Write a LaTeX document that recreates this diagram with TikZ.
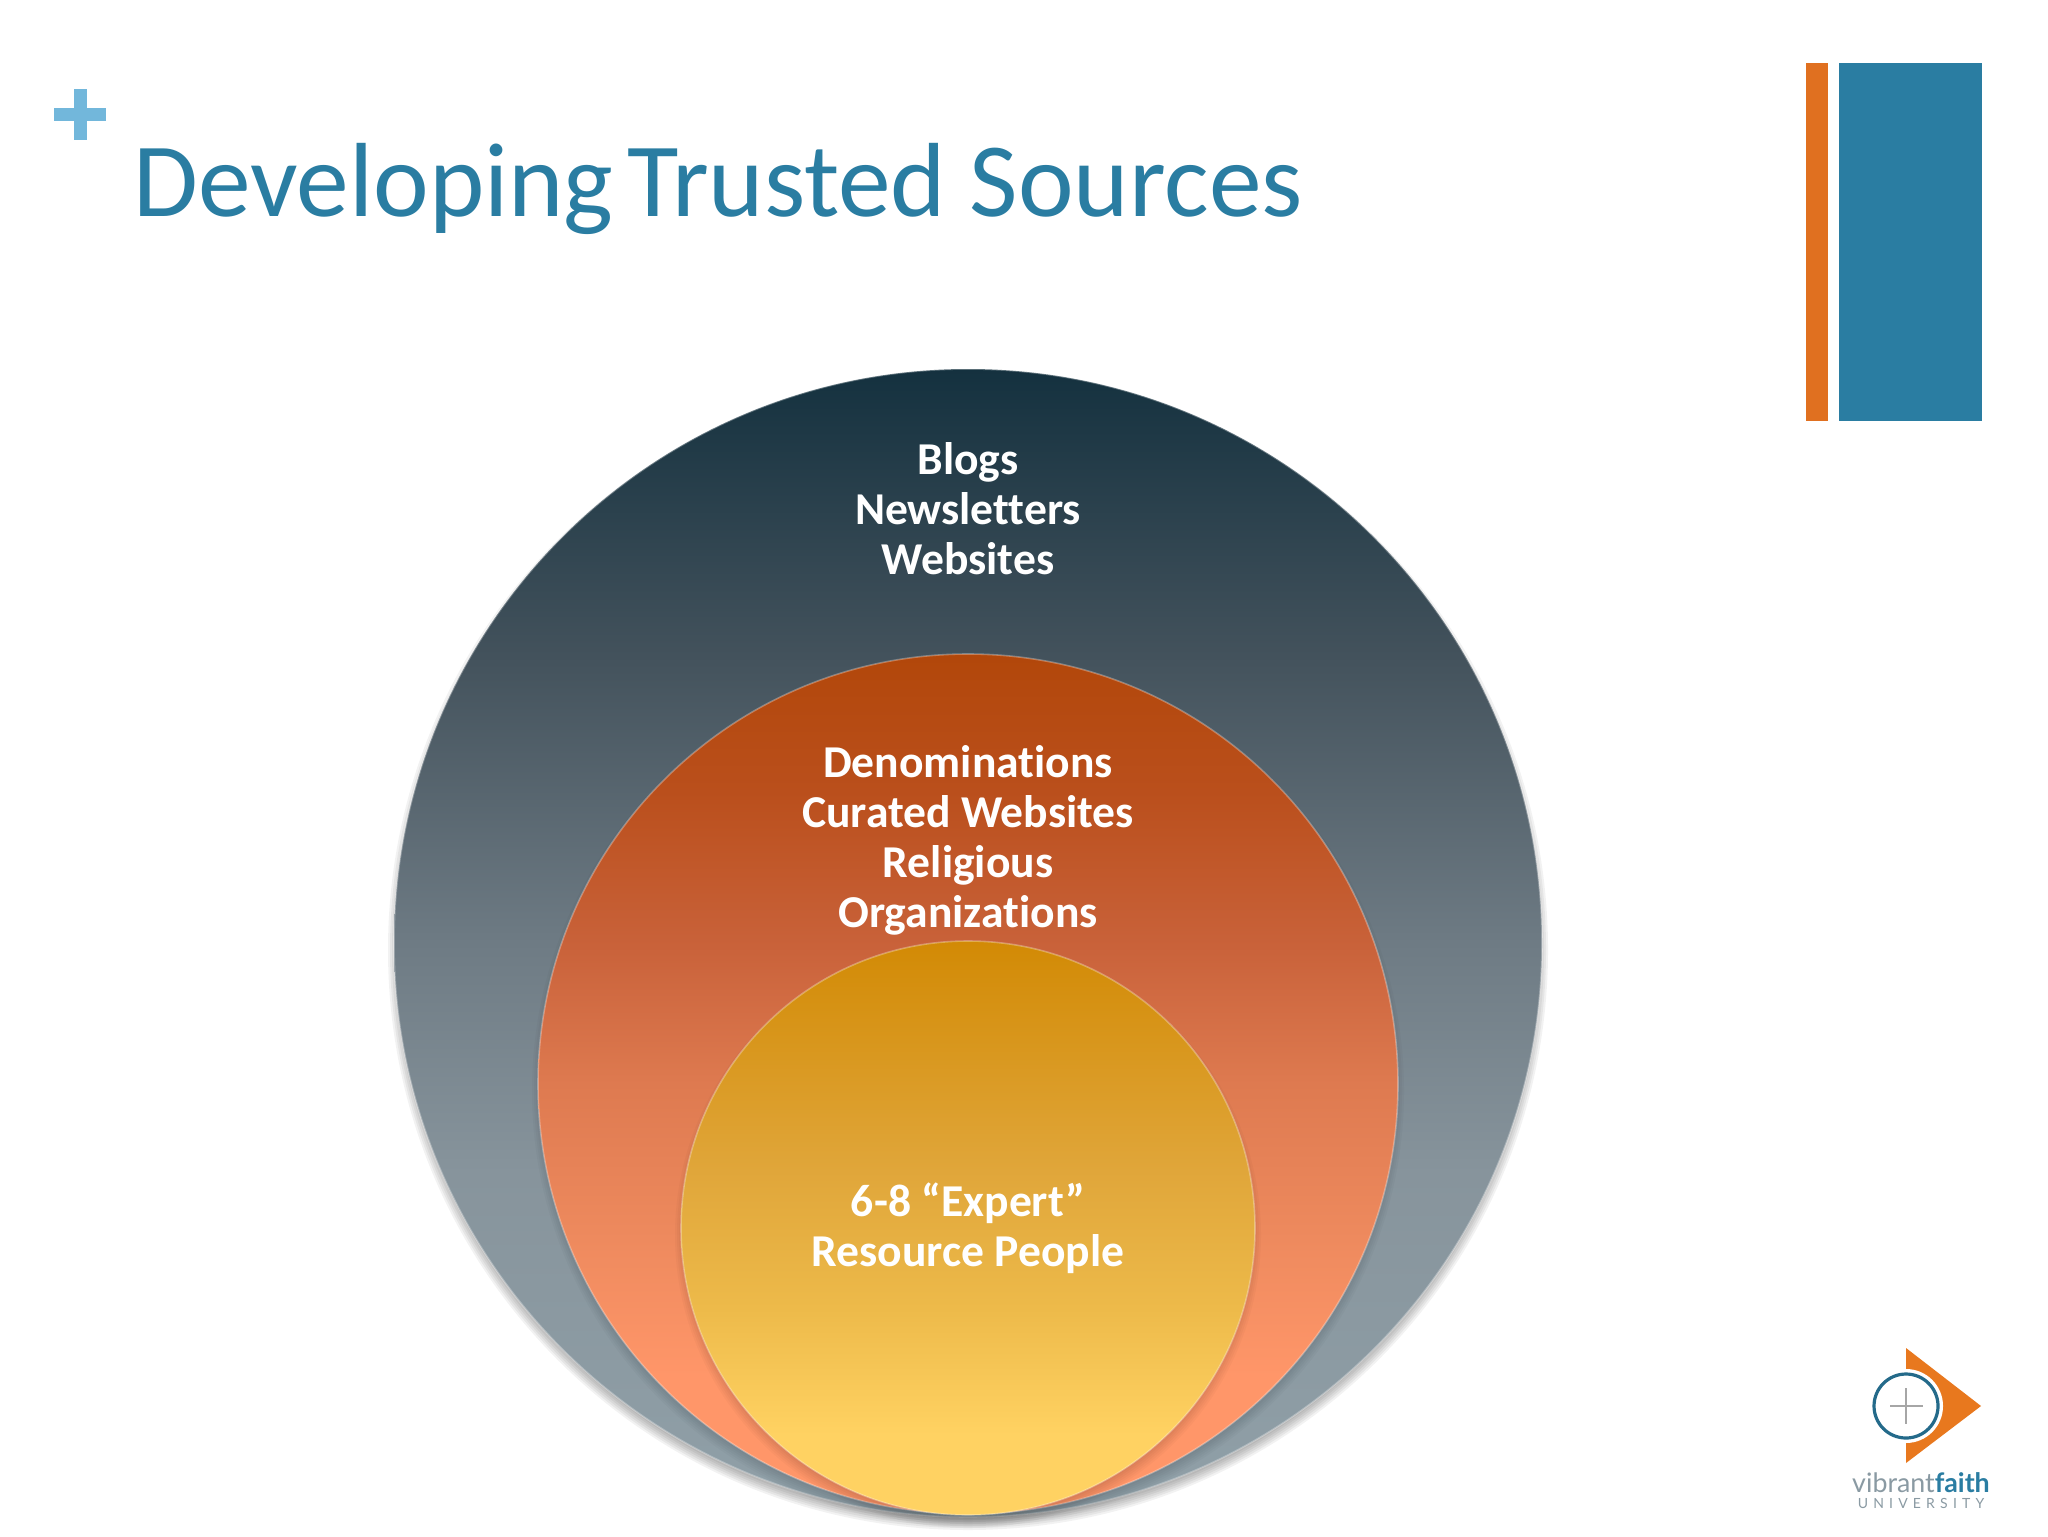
\documentclass[tikz,border=0pt]{standalone}
\usepackage{fontspec}
\setmainfont{Carlito}[Ligatures=CommonOff]
\newfontfamily\logofont{Lato}
\definecolor{titleblue}{HTML}{2A7DA2}
\definecolor{barorange}{HTML}{E07020}
\definecolor{plusblue}{HTML}{72B7DB}
\definecolor{logoorange}{HTML}{E8781E}
\definecolor{logogray}{HTML}{8A9AA3}
\definecolor{oa}{HTML}{90A0A8}
\definecolor{ob}{HTML}{87949C}
\definecolor{oc}{HTML}{6E7B84}
\definecolor{od}{HTML}{43525C}
\definecolor{oe}{HTML}{14313F}
\definecolor{ma}{HTML}{FF9669}
\definecolor{mb}{HTML}{EE8A5E}
\definecolor{mc}{HTML}{DE7A50}
\definecolor{md}{HTML}{C9623A}
\definecolor{me}{HTML}{BA4F1C}
\definecolor{mf}{HTML}{B2470A}
\definecolor{ia}{HTML}{FFD262}
\definecolor{ib}{HTML}{EDBA4A}
\definecolor{ic}{HTML}{E0A63A}
\definecolor{id}{HTML}{D28A05}
\pgfdeclareverticalshading{outershade}{100bp}{
  color(0bp)=(oa); color(25bp)=(oa); color(40bp)=(ob); color(50bp)=(oc);
  color(62.5bp)=(od); color(75bp)=(oe); color(100bp)=(oe)}
\pgfdeclareverticalshading{middleshade}{100bp}{
  color(0bp)=(ma); color(33bp)=(ma); color(41bp)=(mb); color(50bp)=(mc);
  color(58bp)=(md); color(67bp)=(me); color(75bp)=(mf); color(100bp)=(mf)}
\pgfdeclareverticalshading{innershade}{100bp}{
  color(0bp)=(ia); color(32bp)=(ia); color(43bp)=(ib); color(55bp)=(ic);
  color(75bp)=(id); color(100bp)=(id)}
\tikzset{
  x=0.5pt,y=-0.5pt,
  disc/.style={circle,inner sep=0pt,outer sep=0pt,draw=white,draw opacity=.3,line width=.8pt},
  ringtext/.style={font=\fontsize{22.8}{25}\selectfont\bfseries,text=white,align=center,inner sep=0pt},
  softshadow/.style={fill=black,draw=none}
}
\newcommand{\softdisc}[4]{% cx cy r opacity
  \foreach \d in {0,2,...,16}{
    \fill[softshadow,fill opacity=#4] (#1,#2+7) circle[radius={(#3+6-\d)*0.5pt}];
  }
}
\begin{document}
\begin{tikzpicture}
\useasboundingbox (0,0) rectangle (2048,1536);
\fill[white] (0,0) rectangle (2048,1536);
% plus, title, bars
\fill[plusblue] (54,108) rectangle (106,121);
\fill[plusblue] (74,89) rectangle (87,140);
\node[anchor=base west,inner sep=0pt,text=titleblue,font=\fontsize{52.7}{60}\selectfont] (title) at (133,216) {Developing\hspace{-5pt} Trusted Sources};
\fill[barorange] (1806,63) rectangle (1828,421);
\fill[titleblue] (1839,63) rectangle (1982,421);
% circles
\softdisc{968}{943}{574}{.05}
\node[disc,minimum size=574pt,shading=outershade] (outer) at (968,943) {};
\softdisc{968}{1084}{430}{.025}
\node[disc,minimum size=430pt,shading=middleshade] (middle) at (968,1084) {};
\softdisc{968}{1228}{287}{.025}
\node[disc,minimum size=287pt,shading=innershade] (inner) at (968,1228) {};
% texts
\node[ringtext] (t1) at (968,509) {Blogs\\Newsletters\\Websites};
\node[ringtext] (t2) at (968,840) {Denominations\\Curated Websites\\Religious\\Organizations};
\node[ringtext] (t3) at (968,1228) {6-8 “Expert”\\Resource People};
% logo
\fill[logoorange] (1906,1348) -- (1981,1406) -- (1906,1463) -- cycle;
\fill[white] (1906,1406) circle[radius=18.5pt];
\draw[titleblue!85!black,line width=1.6pt] (1906,1406) circle[radius=16pt];
\draw[gray!70,line width=.8pt] (1890,1406) -- (1923,1406) (1906,1388) -- (1906,1424);
\node[inner sep=0pt,text=titleblue,font=\logofont\fontsize{13.4}{16}\selectfont] (logoa) at (1921,1483) {\textcolor{logogray}{vibrant}\textbf{faith}};
\node[inner sep=0pt,text=logogray,font=\logofont\fontsize{7}{8}\selectfont] (logob) at (1921,1503) {U\hspace{2.6pt}N\hspace{2.6pt}I\hspace{2.6pt}V\hspace{2.6pt}E\hspace{2.6pt}R\hspace{2.6pt}S\hspace{2.6pt}I\hspace{2.6pt}T\hspace{2.6pt}Y};
\end{tikzpicture}
\end{document}
